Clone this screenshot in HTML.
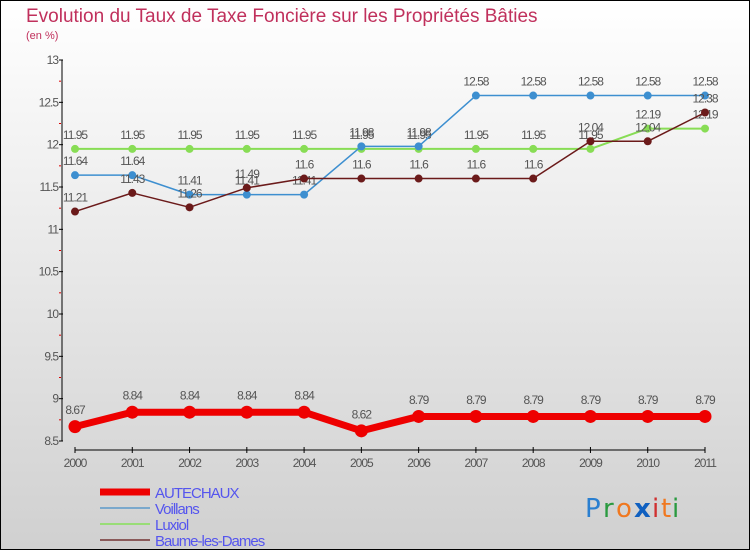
<!DOCTYPE html>
<html><head><meta charset="utf-8"><style>
html,body{margin:0;padding:0}
body{width:750px;height:550px;overflow:hidden;font-family:"Liberation Sans",sans-serif}
</style></head><body>
<svg id="chart" width="750" height="550" xmlns="http://www.w3.org/2000/svg">
<defs><linearGradient id="bg" x1="0" y1="0" x2="0" y2="1"><stop offset="0" stop-color="#ffffff"/><stop offset="1" stop-color="#d0d0d0"/></linearGradient></defs>
<rect x="0.5" y="0.5" width="749" height="549" fill="url(#bg)" stroke="#000"/>
<text x="26" y="22" font-size="19" fill="#c0305c">Evolution du Taux de Taxe Foncière sur les Propriétés Bâties</text>
<text x="26" y="39" font-size="11" fill="#c0305c">(en %)</text>
<g id="axes"></g><g id="series"></g><g id="legend"></g>
<g font-size="26" font-family="'DejaVu Sans',sans-serif">
<text x="585" y="517" fill="#2a7fd0">P</text><text x="603" y="517" fill="#2a9a40">r</text><text x="616" y="517" fill="#f07820">o</text><text x="634" y="517" fill="#1060c0" font-weight="bold">x</text><text x="652" y="517" fill="#d03030">i</text><text x="661" y="517" fill="#f07820">t</text><text x="672" y="517" fill="#2a9a40">i</text></g>
</svg>
<script>
const years=[2000,2001,2002,2003,2004,2005,2006,2007,2008,2009,2010,2011];
const autechaux=[8.67,8.84,8.84,8.84,8.84,8.62,8.79,8.79,8.79,8.79,8.79,8.79];
const voillans=[11.64,11.64,11.41,11.41,11.41,11.98,11.98,12.58,12.58,12.58,12.58,12.58];
const luxiol=[11.95,11.95,11.95,11.95,11.95,11.95,11.95,11.95,11.95,11.95,12.19,12.19];
const baume=[11.21,11.43,11.26,11.49,11.6,11.6,11.6,11.6,11.6,12.04,12.04,12.38];
const yTicks=[8.5,9,9.5,10,10.5,11,11.5,12,12.5,13];
const NS="http://www.w3.org/2000/svg";
const xs=i=>75+i*(630/11);
const ys=v=>441-(v-8.5)*(381/4.5);
function mk(tag,attrs,parent,txt){const e=document.createElementNS(NS,tag);for(const k in attrs)e.setAttribute(k,attrs[k]);if(txt!==undefined)e.textContent=txt;parent.appendChild(e);return e;}
const axes=document.getElementById('axes');
let a=mk('line',{x1:62,y1:60,x2:62,y2:441,stroke:'#000'},axes);


let b=mk('line',{x1:75,y1:450,x2:705,y2:450,stroke:'#000'},axes);


yTicks.forEach(t=>{const y=ys(t);mk('line',{x1:59,y1:y,x2:63,y2:y,stroke:'#000'},axes);
if(t<13)mk('line',{x1:59,y1:ys(t+0.25),x2:61,y2:ys(t+0.25),stroke:'#d00'},axes);
const l=mk('text',{x:58,y:y+4,'font-size':12,fill:'#555','text-anchor':'end','letter-spacing':'-1'},axes,String(t));

});
years.forEach((yr,i)=>{const x=xs(i);mk('line',{x1:x,y1:447,x2:x,y2:453,stroke:'#000'},axes);
const l=mk('text',{x:x,y:467,'font-size':12,fill:'#555','text-anchor':'middle','letter-spacing':'-1'},axes,String(yr));

});
const ser=document.getElementById('series');
function draw(vals,color,w,r,name){const g=mk('g',{},ser);


mk('polyline',{points:vals.map((v,i)=>xs(i)+','+ys(v)).join(' '),fill:'none',stroke:color,'stroke-width':w,'stroke-linejoin':'round'},g);
vals.forEach((v,i)=>{const c=mk('circle',{cx:xs(i),cy:ys(v),r:r,fill:color},g);


mk('text',{x:xs(i),y:ys(v)-(r+6),'font-size':12,fill:'#555','text-anchor':'middle','letter-spacing':'-1'},g,String(v));});}
draw(luxiol,'#88dd55',2,4,'luxiol');
draw(voillans,'#3d8fd0',1.5,4,'voillans');
draw(baume,'#6b1a1a',1.5,4,'baume-les-dames');
draw(autechaux,'#ee0000',7,6.5,'autechaux');
const lg=document.getElementById('legend');
[['AUTECHAUX','#ee0000',7],['Voillans','#7aa8cc',2],['Luxiol','#99dd77',2],['Baume-les-Dames','#8a5a5a',2]].forEach((d,i)=>{const y=492+i*16;
const g=mk('g',{},lg);


mk('line',{x1:100,y1:y,x2:150,y2:y,stroke:d[1],'stroke-width':d[2]},g);
mk('text',{x:155,y:y+6,'font-size':15,fill:'#5555ee','letter-spacing':'-1'},g,d[0]);});
</script>
</body></html>
